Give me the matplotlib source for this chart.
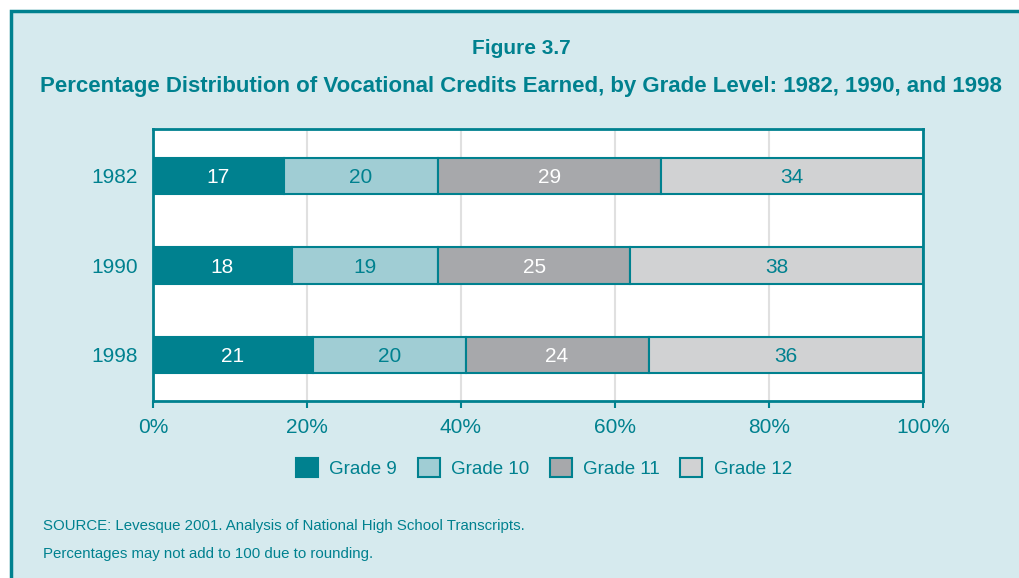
import matplotlib
matplotlib.use('Agg')
import matplotlib.pyplot as plt
from matplotlib.patches import Rectangle, Patch
import numpy as np

## data
years = ['1982', '1990', '1998']
grades = ['Grade 9', 'Grade 10', 'Grade 11', 'Grade 12']
grade9 = [17, 18, 21]
grade10 = [20, 19, 20]
grade11 = [29, 25, 24]
grade12 = [34, 38, 36]
xticks = [0, 20, 40, 60, 80, 100]

## style
teal = '#00818F'
bg = '#D6EAEE'
colors = [teal, '#A0CDD4', '#A7A8AB', '#D1D2D3']
txtcol = ['white', teal, 'white', teal]
plt.rcParams['font.family'] = ['Liberation Sans', 'DejaVu Sans']

fig = plt.figure(figsize=(10.2, 5.78), dpi=100)
fig.patch.set_facecolor('white')
# panel frame
fig.patches.append(Rectangle((11/1020, -0.1), 1.2, (578-11)/578 + 0.1, transform=fig.transFigure,
                             facecolor=bg, edgecolor=teal, linewidth=2.5, zorder=-5))

ax = fig.add_axes([153/1020, 1-401/578, (923-153)/1020, (401-129)/578])
ax.set_zorder(5)
ax.set_facecolor('white')

rows = np.array([grade9, grade10, grade11, grade12], dtype=float)
totals = rows.sum(axis=0)
pos = np.arange(len(years))
left = np.zeros(len(years))
for i in range(len(grades)):
    w = rows[i] / totals * 100
    ax.barh(pos, w, left=left, height=0.41, color=colors[i], edgecolor=teal,
            linewidth=1.5, zorder=3, label=grades[i])
    for j in range(len(years)):
        ax.text(left[j] + w[j]/2, pos[j], '%d' % rows[i][j], ha='center', va='center_baseline',
                color=txtcol[i], fontsize=15, zorder=4)
    left = left + w

ax.set_xlim(0, 100)
ax.set_ylim(2.514, -0.525)
ax.set_yticks(pos)
ax.set_yticklabels(years)
ax.set_xticks(xticks)
ax.set_xticklabels(['%d%%' % t for t in xticks])
ax.tick_params(axis='y', length=0, pad=11, labelsize=15, labelcolor=teal)
ax.tick_params(axis='x', length=5, width=1.5, color=teal, pad=7, labelsize=15, labelcolor=teal)
ax.xaxis.grid(True, color='#E0E0E0', linewidth=1.5, zorder=1)
ax.set_axisbelow(True)
for s in ax.spines.values():
    s.set_color(teal)
    s.set_linewidth(2)

handles = [Patch(facecolor=colors[i], edgecolor=teal, linewidth=1.5) for i in range(4)]
leg = fig.legend(handles, grades, loc='center', bbox_to_anchor=(544/1020, 1-468/578), ncol=4,
                 frameon=False, fontsize=13.5, labelcolor=teal, handlelength=1.17, handleheight=1.17,
                 handletextpad=0.6, columnspacing=1.1)

fig.text(521/1020, 1-49/578, 'Figure 3.7', ha='center', va='center', fontsize=15,
         fontweight='bold', color=teal)
fig.text(521/1020, 1-86/578, 'Percentage Distribution of Vocational Credits Earned, by Grade Level: 1982, 1990, and 1998',
         ha='center', va='center', fontsize=16, fontweight='bold', color=teal)
fig.text(43/1020, 1-526/578, 'SOURCE: Levesque 2001. Analysis of National High School Transcripts.',
         ha='left', va='center', fontsize=10.8, color=teal)
fig.text(43/1020, 1-554/578, 'Percentages may not add to 100 due to rounding.',
         ha='left', va='center', fontsize=10.8, color=teal)

plt.savefig('out.png', dpi=100, facecolor=fig.get_facecolor())
